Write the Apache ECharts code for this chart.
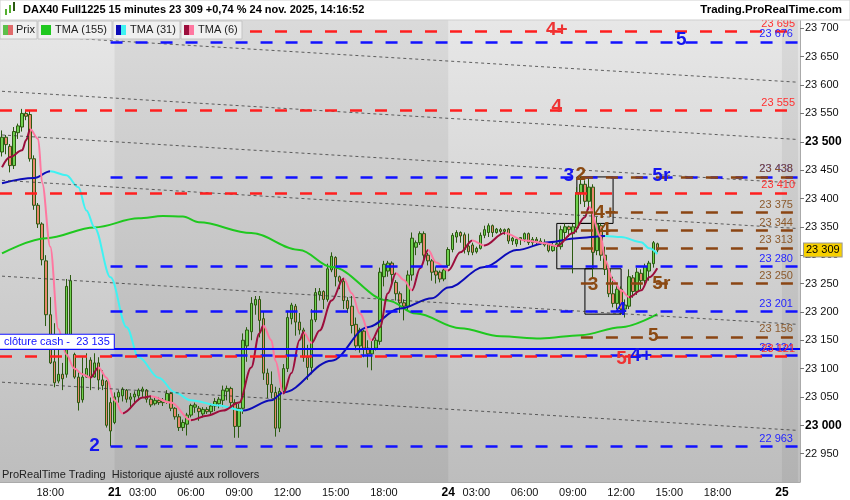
<!DOCTYPE html>
<html>
<head>
<meta charset="utf-8">
<script src="https://cdn.jsdelivr.net/npm/echarts@6/dist/echarts.min.js"></script>
<style>
  html, body { margin: 0; padding: 0; background: #fff; }
  #chart { width: 850px; height: 500px; }
</style>
</head>
<body>
<div id="chart"></div>
<script>
// sessions: day, first bar (minutes), last bar (minutes), 15 min bars
const sessions = [["20", 900, 1305], ["21", 75, 1305], ["24", 75, 1305], ["25", 75, 135]];

// [open, close, low, high]
const day20 = [
  [23482, 23508, 23474, 23520], [23508, 23495, 23478, 23512], [23492, 23458, 23446, 23496], [23458, 23518, 23452, 23526],
  [23516, 23528, 23505, 23532], [23526, 23550, 23518, 23558], [23550, 23545, 23538, 23556], [23548, 23470, 23465, 23555],
  [23470, 23388, 23380, 23476], [23388, 23355, 23348, 23392], [23355, 23292, 23282, 23358], [23290, 23195, 23175, 23300],
  [23195, 23110, 23108, 23226], [23112, 23075, 23067, 23180], [23078, 23090, 23074, 23135], [23090, 23082, 23062, 23110],
  [23090, 23245, 23084, 23258], [23150, 23255, 23145, 23265], [23125, 23085, 23082, 23128], [23085, 23040, 23026, 23095],
  [23045, 23085, 23040, 23120], [23085, 23100, 23084, 23127], [23115, 23085, 23062, 23120], [23085, 23110, 23084, 23127],
  [23110, 23080, 23062, 23120], [23080, 23070, 23062, 23097], [23078, 23000, 22996, 23080], [23040, 22990, 22963, 23049]
];
const day21 = [
  [23005, 23050, 23002, 23058], [23050, 23058, 23040, 23062], [23052, 23064, 23042, 23067], [23062, 23046, 23040, 23064],
  [23046, 23050, 23032, 23057], [23050, 23055, 23040, 23060], [23052, 23062, 23044, 23065], [23060, 23064, 23050, 23068],
  [23062, 23046, 23040, 23064], [23046, 23036, 23032, 23050], [23038, 23044, 23035, 23050], [23044, 23040, 23036, 23050],
  [23040, 23044, 23034, 23048], [23042, 23056, 23038, 23062], [23056, 23030, 23025, 23058], [23030, 23015, 23010, 23032],
  [23015, 22996, 22990, 23020], [22996, 23005, 22990, 23010], [23002, 23018, 22982, 23022], [23018, 23035, 23014, 23038],
  [23032, 23036, 23022, 23040], [23030, 23024, 23008, 23034], [23020, 23028, 23014, 23032], [23028, 23024, 23020, 23032],
  [23024, 23034, 23020, 23038], [23034, 23042, 23025, 23048], [23038, 23046, 23030, 23050], [23044, 23062, 23032, 23070],
  [23060, 23065, 23044, 23070], [23065, 23040, 23030, 23068], [23040, 22998, 22978, 23046], [22998, 23030, 22978, 23038],
  [23030, 23150, 23020, 23162], [23140, 23168, 23112, 23173], [23165, 23215, 23150, 23226], [23212, 23222, 23195, 23228],
  [23222, 23185, 23155, 23228], [23188, 23092, 23080, 23200], [23092, 23072, 23048, 23100], [23072, 23058, 23048, 23095],
  [23058, 22995, 22980, 23068], [22995, 23060, 22988, 23066], [23060, 23100, 23056, 23108], [23100, 23190, 23094, 23202],
  [23188, 23212, 23178, 23216], [23210, 23182, 23158, 23214], [23182, 23168, 23160, 23198], [23168, 23120, 23112, 23172],
  [23120, 23102, 23080, 23142], [23102, 23186, 23090, 23205], [23186, 23234, 23182, 23242], [23230, 23236, 23220, 23242],
  [23236, 23222, 23205, 23238], [23222, 23276, 23218, 23285], [23274, 23298, 23270, 23305], [23296, 23262, 23245, 23298],
  [23262, 23254, 23240, 23264], [23254, 23220, 23205, 23258], [23220, 23206, 23198, 23226], [23210, 23176, 23162, 23228],
  [23178, 23140, 23132, 23190], [23140, 23168, 23128, 23172], [23166, 23136, 23120, 23168], [23136, 23126, 23102, 23150],
  [23126, 23134, 23097, 23150], [23136, 23150, 23132, 23155], [23148, 23270, 23142, 23278], [23262, 23284, 23245, 23290],
  [23272, 23286, 23262, 23290], [23286, 23266, 23250, 23289], [23252, 23232, 23220, 23256], [23232, 23216, 23198, 23236],
  [23216, 23210, 23185, 23222], [23210, 23265, 23203, 23273], [23265, 23330, 23255, 23340], [23314, 23322, 23300, 23326],
  [23322, 23338, 23318, 23342], [23338, 23300, 23288, 23342], [23300, 23290, 23282, 23304], [23290, 23270, 23255, 23293],
  [23272, 23265, 23250, 23280], [23270, 23258, 23252, 23273], [23258, 23274, 23254, 23280]
];
const day24 = [
  [23282, 23310, 23278, 23314], [23310, 23335, 23305, 23339], [23332, 23340, 23322, 23344], [23340, 23334, 23322, 23342],
  [23336, 23310, 23303, 23340], [23316, 23306, 23300, 23338], [23318, 23305, 23300, 23322], [23306, 23312, 23303, 23315],
  [23312, 23335, 23310, 23340], [23335, 23345, 23330, 23352], [23340, 23352, 23332, 23356], [23352, 23340, 23332, 23354],
  [23340, 23346, 23338, 23348], [23345, 23342, 23336, 23348], [23342, 23345, 23336, 23347], [23346, 23325, 23320, 23348],
  [23325, 23330, 23318, 23332], [23320, 23328, 23315, 23330], [23328, 23331, 23318, 23332], [23328, 23338, 23323, 23340],
  [23338, 23322, 23318, 23340], [23322, 23328, 23315, 23332], [23328, 23325, 23318, 23332], [23325, 23322, 23318, 23330],
  [23322, 23318, 23315, 23328], [23320, 23308, 23305, 23322], [23308, 23316, 23306, 23322], [23316, 23320, 23305, 23330],
  [23315, 23345, 23310, 23352], [23340, 23350, 23327, 23356], [23350, 23345, 23332, 23352], [23338, 23350, 23268, 23355],
  [23348, 23410, 23340, 23420], [23410, 23425, 23390, 23438], [23425, 23395, 23385, 23432], [23395, 23420, 23380, 23436],
  [23420, 23305, 23258, 23425], [23308, 23355, 23300, 23368], [23352, 23300, 23290, 23356], [23300, 23275, 23265, 23315],
  [23275, 23232, 23226, 23280], [23232, 23215, 23208, 23262], [23215, 23240, 23205, 23248], [23240, 23205, 23195, 23245],
  [23205, 23212, 23190, 23222], [23210, 23262, 23205, 23275], [23260, 23236, 23225, 23265], [23236, 23270, 23230, 23278],
  [23268, 23255, 23240, 23275], [23255, 23280, 23245, 23285], [23272, 23286, 23255, 23290], [23285, 23322, 23278, 23325],
  [23320, 23309, 23305, 23322]
];

// moving averages: [bar index, value]
const tma155 = [
  [0, 23303], [11, 23330], [23, 23349], [34, 23365], [40, 23369], [45, 23368], [49, 23358], [62, 23339],
  [74, 23309], [82, 23279], [96, 23220], [103, 23197], [114, 23171], [124, 23157], [134, 23153],
  [144, 23159], [154, 23173], [163, 23196]
];
const tma31 = [
  [0, 23427], [8, 23436], [12, 23448], [16, 23441], [19, 23420], [21, 23379], [23, 23349], [27, 23261],
  [31, 23173], [34, 23120], [39, 23084], [43, 23058], [47, 23044], [54, 23035], [60, 23026], [67, 23044],
  [70, 23058], [82, 23114], [91, 23173], [99, 23206], [107, 23224], [111, 23243], [120, 23279], [128, 23309],
  [136, 23323], [143, 23330], [150, 23334], [154, 23332], [159, 23323], [161, 23312], [163, 23302]
];
const tma6 = [
  [0, 23455], [2, 23473], [5, 23485], [6, 23503], [7, 23522], [9, 23505], [10, 23427], [12, 23315],
  [14, 23170], [16, 23125], [18, 23100], [20, 23090], [22, 23084], [24, 23102], [26, 23084], [28, 23044],
  [30, 23021], [35, 23049], [37, 23051], [42, 23040], [47, 23009], [51, 23017], [55, 23026], [59, 23040],
  [62, 23102], [64, 23162], [65, 23176], [67, 23150], [68, 23114], [70, 23056], [72, 23092], [74, 23150],
  [75, 23164], [77, 23145], [79, 23167], [82, 23220], [85, 23259], [87, 23233], [89, 23197], [92, 23150],
  [94, 23173], [96, 23233], [98, 23268], [100, 23256], [102, 23238], [104, 23277], [106, 23309], [108, 23287],
  [111, 23273], [114, 23305], [117, 23326], [120, 23317], [125, 23339], [130, 23326], [135, 23321], [138, 23316],
  [142, 23339], [145, 23367], [146, 23385], [149, 23332], [150, 23291], [152, 23256], [154, 23238], [156, 23226],
  [159, 23238], [161, 23261], [163, 23277]
];

// horizontal levels
const levelPrices = [23695, 23676, 23555, 23438, 23438, 23410, 23375, 23344, 23313, 23280, 23250, 23201, 23156, 23124, 23121, 22963];
const levelKinds  = ["r", "b", "r", "b", "m", "r", "m", "m", "m", "b", "m", "b", "m", "b", "r", "b"];
const levelStarts = [0, 27, 0, 27, 144, 0, 144, 144, 144, 27, 144, 27, 144, 27, 0, 27];
const clotureCash = 23135;

// sloping dotted lines, value at first and last bar
const trendStart = [23690, 23589, 23512, 23432, 23263, 23076];
const trendEnd   = [23605, 23504, 23427, 23347, 23178, 22991];

// big tags
const tagText  = ["4+", "5", "4", "3", "2", "5r", "4+", "4", "3", "5r", "4", "5", "5r", "4+", "2"];
const tagIdx   = [138, 169, 138, 141, 144, 164, 150, 150, 147, 164, 154, 162, 155, 159, 23];
const tagPrice = [23697, 23680, 23561, 23440, 23442, 23440, 23375, 23344, 23247, 23250, 23203, 23158, 23118, 23123, 22964];
const tagKind  = ["r", "b", "r", "b", "m", "b", "m", "m", "m", "m", "b", "m", "r", "b", "b"];

// black boxes: first bar, last bar, top, bottom
const boxFrom = [143, 138, 145];
const boxTo   = [152, 147, 154];
const boxTop  = [23438, 23356, 23276];
const boxBot  = [23356, 23276, 23196];

// ---------------------------------------------------------------
const hhmm = m => String(Math.floor(m / 60)).padStart(2, "0") + ":" + String(m % 60).padStart(2, "0");
const categories = [], dayStart = [], minutesOf = [];
sessions.forEach(([d, from, to]) => {
  for (let m = from; m <= to; m += 15) {
    categories.push(d + " " + hhmm(m));
    dayStart.push(m === from);
    minutesOf.push(m);
  }
});
const candles = [...day20, ...day21, ...day24];
const lastClose = candles[candles.length - 1][1];
const lastIdx = categories.length - 1;

const fmt = v => { const s = String(Math.round(v)); return s.slice(0, s.length - 3) + " " + s.slice(-3); };
const lineCol = { r: "#ff1f1f", b: "#1212ff", m: "#8b4513" };
const textCol = { r: "#ff3030", b: "#2525ff", m: "#8c5a2c" };
const tagCol  = { r: "#ee3333", b: "#1515ee", m: "#8b4a12" };
const FONT = "Liberation Sans, Arial, sans-serif";

function slopePieces(pts, up, down) {
  const pieces = [];
  for (let i = 1; i < pts.length; i++) {
    const c = pts[i][1] >= pts[i - 1][1] ? up : down;
    const last = pieces[pieces.length - 1];
    if (last && last.color === c) last.lt = pts[i][0];
    else pieces.push({ gte: pts[i - 1][0], lt: pts[i][0], color: c });
  }
  pieces[0].gte = -1000;
  pieces[pieces.length - 1].lt = 1000;
  return pieces;
}

const levelLines = levelPrices.map((p, i) => {
  const k = levelKinds[i];
  const style = {
    lineStyle: { color: lineCol[k], type: [12, 13], width: 2.5 },
    label: { show: true, position: "insideEndTop", formatter: fmt(p), color: textCol[k], fontSize: 11, distance: [5, 2] }
  };
  if (levelStarts[i] === 0) return Object.assign({ yAxis: p }, style);
  return [Object.assign({ coord: [categories[levelStarts[i]], p] }, style), { coord: [categories[lastIdx], p] }];
});

const trendLines = trendStart.map((p, i) => [
  { coord: [categories[0], p], lineStyle: { color: "#333", type: [3, 3], width: 1, opacity: 0.75 }, label: { show: false } },
  { coord: [categories[lastIdx], trendEnd[i]] }
]);

const myChart = echarts.init(document.getElementById("chart"));
const option = {
  animation: false,
  textStyle: { fontFamily: FONT },
  grid: {
    left: 0, right: 50, top: 0, bottom: 18, show: true, borderWidth: 0,
    backgroundColor: new echarts.graphic.LinearGradient(0, 0, 0, 1, [
      { offset: 0, color: "#e9e9e9" }, { offset: 1, color: "#bdbdbd" }
    ])
  },
  xAxis: {
    type: "category",
    data: categories,
    boundaryGap: true,
    axisLine: { lineStyle: { color: "#aaa" } },
    axisTick: {
      alignWithLabel: true, length: 4, lineStyle: { color: "#888" },
      interval: i => dayStart[i] || minutesOf[i] % 180 === 0
    },
    axisLabel: {
      fontSize: 11, color: "#111", margin: 5,
      interval: i => i > 0 && (dayStart[i] || (minutesOf[i] % 180 === 0 && minutesOf[i] >= 180 && minutesOf[i] <= 1080)),
      formatter: (v, i) => dayStart[i] ? "{d|" + v.split(" ")[0] + "}" : v.split(" ")[1],
      rich: { d: { fontWeight: "bold", fontSize: 12, color: "#000" } }
    },
    splitLine: { show: false }
  },
  yAxis: {
    type: "value",
    position: "right",
    min: 22900, max: 23750, interval: 50,
    axisLine: { show: true, lineStyle: { color: "#aaa" } },
    axisTick: { show: true, length: 4, lineStyle: { color: "#777" } },
    splitLine: { show: false },
    axisLabel: {
      fontSize: 11, color: "#111", margin: 5, showMinLabel: false, showMaxLabel: false,
      formatter: v => v % 500 === 0 ? "{b|" + fmt(v) + "}" : fmt(v),
      rich: { b: { fontWeight: "bold", fontSize: 12, color: "#000" } }
    }
  },
  visualMap: [
    { show: false, type: "piecewise", seriesIndex: 3, dimension: 0, pieces: slopePieces(tma31, "#0c0cb8", "#3ff2f2") },
    { show: false, type: "piecewise", seriesIndex: 4, dimension: 0, pieces: slopePieces(tma6, "#9c0e3c", "#ff77a0") }
  ],
  series: [
    {
      name: "niveaux", type: "line", data: [], z: 1, silent: true,
      markArea: {
        silent: true,
        itemStyle: { color: "rgba(0,0,0,0.055)" },
        data: [
          [{ xAxis: categories[28] }, { xAxis: categories[111] }],
          [{ xAxis: categories[194] }, { xAxis: categories[lastIdx] }]
        ]
      },
      markLine: {
        silent: true, symbol: ["none", "none"],
        data: [
          ...trendLines,
          ...levelLines,
          {
            yAxis: clotureCash,
            lineStyle: { color: "#0000ff", type: "solid", width: 2 },
            label: {
              show: true, position: "insideStartTop", formatter: "clôture cash -  " + fmt(clotureCash),
              color: "#1010ff", fontSize: 11, backgroundColor: "#fff", borderColor: "#1010ff", borderWidth: 1,
              padding: [2, 4, 1, 4], distance: [0, 0]
            }
          },
          {
            yAxis: lastClose,
            lineStyle: { color: "rgba(0,0,0,0)", width: 0 },
            label: {
              show: true, position: "end", formatter: fmt(lastClose), color: "#000", fontSize: 11,
              backgroundColor: "#f7d000", borderColor: "#999", borderWidth: 1, padding: [1, 2], distance: 4
            }
          }
        ]
      }
    },
    {
      name: "Prix", type: "candlestick", data: candles, z: 2, barWidth: 3,
      itemStyle: { color: "#6fd14f", color0: "#e9876d", borderColor: "#2b5a10", borderColor0: "#2b5a10", borderWidth: 1 }
    },
    {
      name: "TMA (155)", type: "line", data: tma155, z: 3, showSymbol: false, smooth: 0.35, smoothMonotone: "x",
      lineStyle: { color: "#1fc81f", width: 2 }
    },
    {
      name: "TMA (31)", type: "line", data: tma31, z: 3, showSymbol: false, smooth: 0.35, smoothMonotone: "x",
      lineStyle: { width: 2 }
    },
    {
      name: "TMA (6)", type: "line", data: tma6, z: 4, showSymbol: false, smooth: 0.35, smoothMonotone: "x",
      lineStyle: { width: 2 }
    },
    {
      name: "repères", type: "line", data: [], z: 6, silent: true,
      markArea: {
        silent: true,
        itemStyle: { color: "rgba(0,0,0,0)", borderColor: "#000", borderWidth: 1 },
        data: boxFrom.map((f, i) => [
          { coord: [categories[f], boxTop[i]] }, { coord: [categories[boxTo[i]], boxBot[i]] }
        ])
      },
      markPoint: {
        silent: true, symbol: "circle", symbolSize: 1, itemStyle: { color: "rgba(0,0,0,0)" },
        label: { show: true, position: "inside", formatter: "{b}", fontSize: 19, fontWeight: "bold", fontFamily: FONT },
        data: tagText.map((t, i) => ({
          name: t, coord: [categories[tagIdx[i]], tagPrice[i]], label: { color: tagCol[tagKind[i]] }
        }))
      }
    }
  ],
  graphic: [
    { type: "rect", z: 100, shape: { x: 0, y: 0, width: 850, height: 20 }, style: { fill: "#fff", stroke: "#cfcfcf", lineWidth: 1 } },
    { type: "rect", z: 101, shape: { x: 5, y: 9, width: 2, height: 6 }, style: { fill: "#55b030" } },
    { type: "rect", z: 101, shape: { x: 9, y: 5, width: 2, height: 8 }, style: { fill: "#55b030" } },
    { type: "rect", z: 101, shape: { x: 13, y: 2, width: 2, height: 9 }, style: { fill: "#2b5a10" } },
    { type: "text", z: 101, left: 23, top: 4, style: { text: "DAX40 Full1225 15 minutes 23 309 +0,74 % 24 nov. 2025, 14:16:52", font: "bold 11px " + FONT, fill: "#000" } },
    { type: "text", z: 101, right: 8, top: 4, style: { text: "Trading.ProRealTime.com", font: "bold 11.5px " + FONT, fill: "#000" } },

    { type: "rect", z: 100, shape: { x: 0, y: 21, width: 37, height: 18 }, style: { fill: "#f0f0f0", stroke: "#c4c4c4" } },
    { type: "rect", z: 101, shape: { x: 3, y: 25, width: 5, height: 10 }, style: { fill: "#5cc04a" } },
    { type: "rect", z: 101, shape: { x: 8, y: 25, width: 5, height: 10 }, style: { fill: "#e06a6a" } },
    { type: "text", z: 101, left: 16, top: 24, style: { text: "Prix", font: "11px " + FONT, fill: "#222" } },

    { type: "rect", z: 100, shape: { x: 38, y: 21, width: 74, height: 18 }, style: { fill: "#f0f0f0", stroke: "#c4c4c4" } },
    { type: "rect", z: 101, shape: { x: 41, y: 25, width: 10, height: 10 }, style: { fill: "#1fc81f" } },
    { type: "text", z: 101, left: 55, top: 24, style: { text: "TMA (155)", font: "11px " + FONT, fill: "#222" } },

    { type: "rect", z: 100, shape: { x: 113, y: 21, width: 67, height: 18 }, style: { fill: "#f0f0f0", stroke: "#c4c4c4" } },
    { type: "rect", z: 101, shape: { x: 116, y: 25, width: 5, height: 10 }, style: { fill: "#0c0cb8" } },
    { type: "rect", z: 101, shape: { x: 121, y: 25, width: 5, height: 10 }, style: { fill: "#3ff2f2" } },
    { type: "text", z: 101, left: 130, top: 24, style: { text: "TMA (31)", font: "11px " + FONT, fill: "#222" } },

    { type: "rect", z: 100, shape: { x: 181, y: 21, width: 61, height: 18 }, style: { fill: "#f0f0f0", stroke: "#c4c4c4" } },
    { type: "rect", z: 101, shape: { x: 184, y: 25, width: 5, height: 10 }, style: { fill: "#9c0e3c" } },
    { type: "rect", z: 101, shape: { x: 189, y: 25, width: 5, height: 10 }, style: { fill: "#ff77a0" } },
    { type: "text", z: 101, left: 198, top: 24, style: { text: "TMA (6)", font: "11px " + FONT, fill: "#222" } },

    { type: "text", z: 101, left: 2, top: 469, style: { text: "ProRealTime Trading  Historique ajusté aux rollovers", font: "11px " + FONT, fill: "#222" } }
  ]
};
myChart.setOption(option);
</script>
</body>
</html>
